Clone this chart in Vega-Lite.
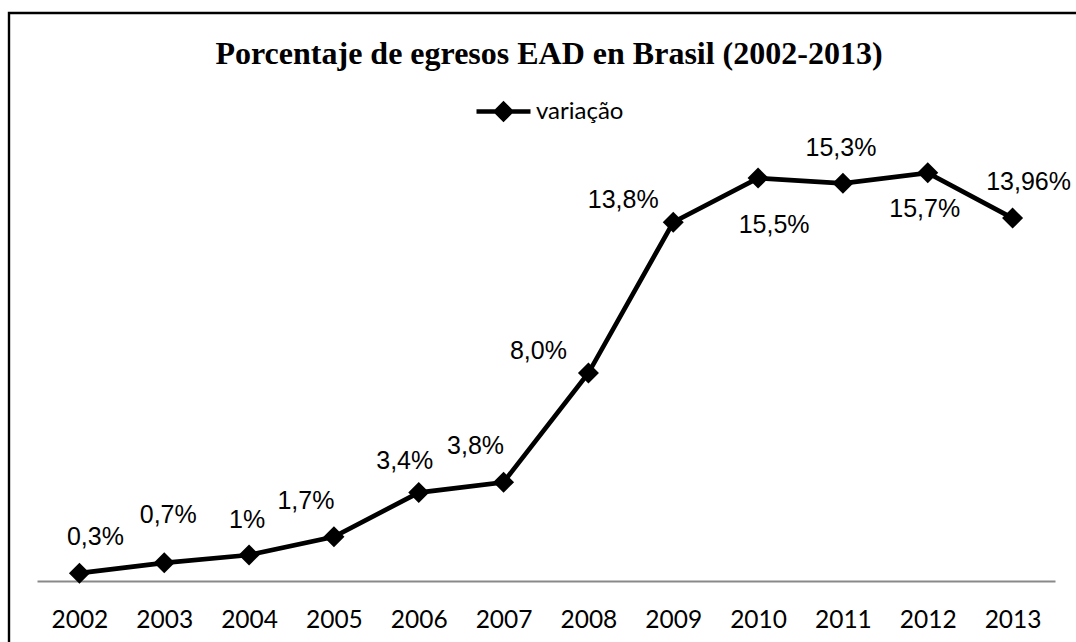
{
  "$schema": "https://vega.github.io/schema/vega-lite/v6.json",
  "width": 1080,
  "height": 640,
  "autosize": {"type": "none"},
  "padding": {"left": 9, "top": 13, "right": -13, "bottom": -11},
  "background": "white",
  "view": {"stroke": "black", "strokeWidth": 2.4},
  "title": {
    "text": "Porcentaje de egresos EAD en Brasil (2002-2013)",
    "font": "Liberation Serif",
    "fontSize": 32,
    "fontWeight": "bold",
    "color": "black",
    "anchor": "middle",
    "frame": "group",
    "offset": -50,
    "dy": 33,
    "baseline": "alphabetic"
  },
  "data": {
    "values": [
      {"year": "2002", "valor": 0.3, "etiqueta": "0,3%", "serie": "variação"},
      {"year": "2003", "valor": 0.7, "etiqueta": "0,7%", "serie": "variação"},
      {"year": "2004", "valor": 1.0, "etiqueta": "1%", "serie": "variação"},
      {"year": "2005", "valor": 1.7, "etiqueta": "1,7%", "serie": "variação"},
      {"year": "2006", "valor": 3.4, "etiqueta": "3,4%", "serie": "variação"},
      {"year": "2007", "valor": 3.8, "etiqueta": "3,8%", "serie": "variação"},
      {"year": "2008", "valor": 8.0, "etiqueta": "8,0%", "serie": "variação"},
      {"year": "2009", "valor": 13.8, "etiqueta": "13,8%", "serie": "variação"},
      {"year": "2010", "valor": 15.5, "etiqueta": "15,5%", "serie": "variação"},
      {"year": "2011", "valor": 15.3, "etiqueta": "15,3%", "serie": "variação"},
      {"year": "2012", "valor": 15.7, "etiqueta": "15,7%", "serie": "variação"},
      {"year": "2013", "valor": 13.96, "etiqueta": "13,96%", "serie": "variação"}
    ]
  },
  "encoding": {
    "x": {
      "field": "year",
      "type": "ordinal",
      "scale": {"type": "point", "range": [28, 1046], "padding": 0.5},
      "axis": {
        "title": null,
        "orient": "bottom",
        "offset": -72,
        "domainColor": "#898989",
        "domainWidth": 2.2,
        "ticks": false,
        "tickSize": 0,
        "grid": false,
        "labelFont": "Lato",
        "labelFontSize": 24.5,
        "labelColor": "black",
        "labelAngle": 0,
        "labelPadding": 46,
        "labelBaseline": "alphabetic"
      }
    },
    "y": {
      "field": "valor",
      "type": "quantitative",
      "scale": {"domain": [-2.77, 21.85], "nice": false, "zero": false},
      "axis": null
    }
  },
  "layer": [
    {"mark": {"type": "line", "color": "black", "strokeWidth": 4.7}},
    {
      "mark": {"type": "point", "shape": "diamond", "filled": true, "size": 441, "opacity": 1},
      "encoding": {
        "color": {
          "field": "serie",
          "type": "nominal",
          "scale": {"range": ["black"]},
          "legend": {
            "title": null,
            "orient": "none",
            "legendX": 465,
            "legendY": 69,
            "padding": 0,
            "symbolType": "M-1,0H1M-0.28,0L0,-0.28L0.28,0L0,0.28Z",
            "symbolSize": 2916,
            "symbolStrokeWidth": 4.5,
            "symbolStrokeColor": "black",
            "symbolFillColor": "black",
            "labelFont": "Lato",
            "labelFontSize": 24,
            "labelColor": "black",
            "labelOffset": 3,
            "encode": {
              "symbols": {
                "update": {
                  "shape": {"value": "M-1,0H1M-0.28,0L0,-0.28L0.28,0L0,0.28Z"},
                  "size": {"value": 2916},
                  "stroke": {"value": "black"},
                  "strokeWidth": {"value": 4.5},
                  "fill": {"value": "black"},
                  "opacity": {"value": 1}
                }
              }
            }
          }
        }
      }
    },
    {
      "transform": [{"filter": {"field": "year", "oneOf": ["2002", "2013"]}}],
      "mark": {"type": "text", "font": "Liberation Sans", "fontSize": 25, "color": "black", "align": "center", "baseline": "middle", "dx": 16, "dy": -36},
      "encoding": {"text": {"field": "etiqueta"}}
    },
    {
      "transform": [{"filter": {"field": "year", "oneOf": ["2003"]}}],
      "mark": {"type": "text", "font": "Liberation Sans", "fontSize": 25, "color": "black", "align": "center", "baseline": "middle", "dx": 4, "dy": -48},
      "encoding": {"text": {"field": "etiqueta"}}
    },
    {
      "transform": [{"filter": {"field": "year", "oneOf": ["2004", "2011"]}}],
      "mark": {"type": "text", "font": "Liberation Sans", "fontSize": 25, "color": "black", "align": "center", "baseline": "middle", "dx": -2, "dy": -35},
      "encoding": {"text": {"field": "etiqueta"}}
    },
    {
      "transform": [{"filter": {"field": "year", "oneOf": ["2005", "2007"]}}],
      "mark": {"type": "text", "font": "Liberation Sans", "fontSize": 25, "color": "black", "align": "center", "baseline": "middle", "dx": -28, "dy": -36},
      "encoding": {"text": {"field": "etiqueta"}}
    },
    {
      "transform": [{"filter": {"field": "year", "oneOf": ["2006"]}}],
      "mark": {"type": "text", "font": "Liberation Sans", "fontSize": 25, "color": "black", "align": "center", "baseline": "middle", "dx": -14, "dy": -32},
      "encoding": {"text": {"field": "etiqueta"}}
    },
    {
      "transform": [{"filter": {"field": "year", "oneOf": ["2008", "2009"]}}],
      "mark": {"type": "text", "font": "Liberation Sans", "fontSize": 25, "color": "black", "align": "center", "baseline": "middle", "dx": -50, "dy": -22},
      "encoding": {"text": {"field": "etiqueta"}}
    },
    {
      "transform": [{"filter": {"field": "year", "oneOf": ["2010"]}}],
      "mark": {"type": "text", "font": "Liberation Sans", "fontSize": 25, "color": "black", "align": "center", "baseline": "middle", "dx": 16, "dy": 47},
      "encoding": {"text": {"field": "etiqueta"}}
    },
    {
      "transform": [{"filter": {"field": "year", "oneOf": ["2012"]}}],
      "mark": {"type": "text", "font": "Liberation Sans", "fontSize": 25, "color": "black", "align": "center", "baseline": "middle", "dx": -3, "dy": 36},
      "encoding": {"text": {"field": "etiqueta"}}
    }
  ]
}
